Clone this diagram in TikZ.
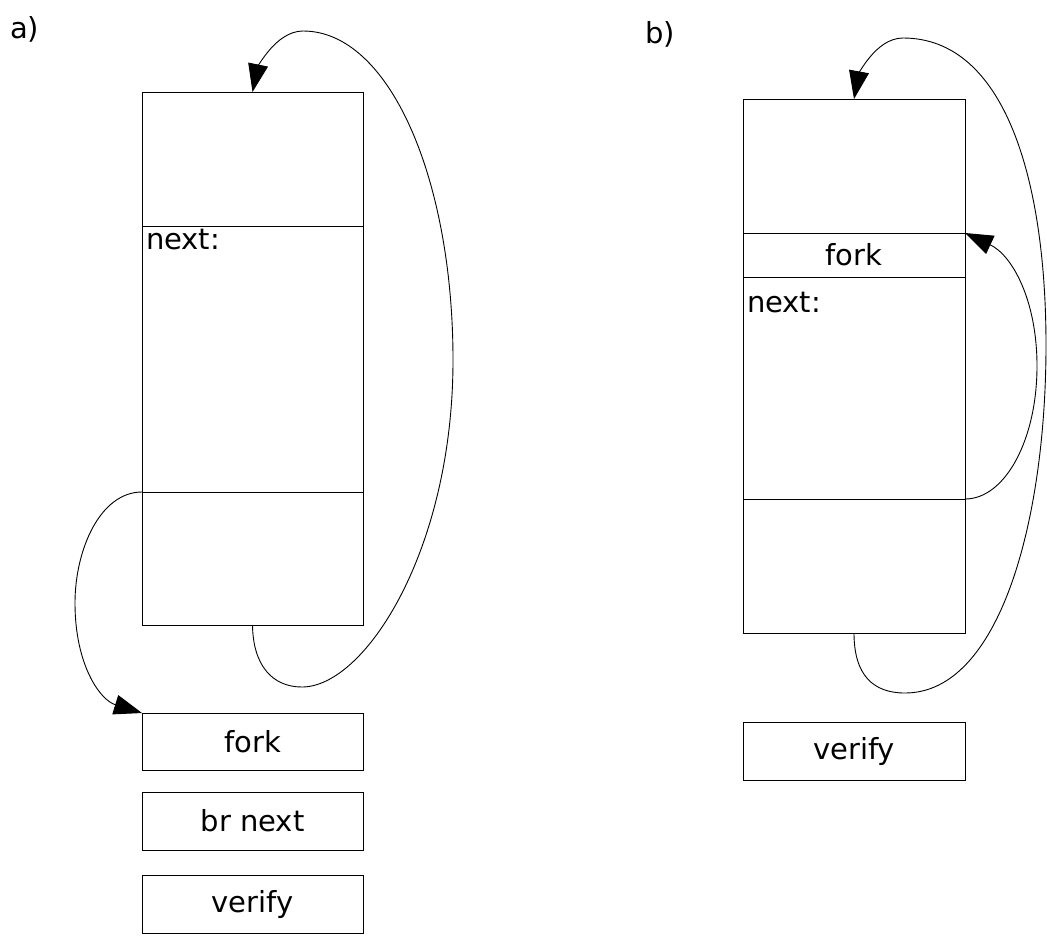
\documentclass[tikz,border=0pt]{standalone}
\usepackage{fontspec}
\setmainfont{DejaVu Sans}
\usetikzlibrary{arrows.meta}
\begin{document}
\begin{tikzpicture}[x=1pt,y=-1pt,
  cell/.style={draw, line width=1pt, inner sep=0pt, outer sep=0pt,
    anchor=north west, font=\fontsize{29}{29}\selectfont},
  txt/.style={inner sep=0pt, outer sep=0pt, anchor=base west,
    font=\fontsize{29}{29}\selectfont},
  link/.style={line width=0.9pt, -{Triangle[length=28pt,width=20pt]}},
  ]
\useasboundingbox (0,0) rectangle (1047,935);

% ---- a) ----
\node[txt] (alabel) at (10,38) {a)};
\node[cell, minimum width=221pt, minimum height=134pt] (aTop) at (142,92) {};
\node[cell, minimum width=221pt, minimum height=266pt] (aMid) at (142,226) {};
\node[cell, minimum width=221pt, minimum height=133pt] (aBot) at (142,492) {};
\node[txt] (aNext) at (146,249) {next:};
\node[cell, minimum width=221pt, minimum height=57pt] (aFork) at (142,713) {fork};
\node[cell, minimum width=221pt, minimum height=58pt] (aBr) at (142,792) {br next};
\node[cell, minimum width=221pt, minimum height=58pt] (aVerify) at (142,875) {verify};

% loop from the end of the block back to its start
\draw[link] (aBot.south)
  .. controls (253,665) and (272,687) .. (302,687)
  .. controls (365,687) and (453,550) .. (453,360)
  .. controls (453,180) and (390,31) .. (303,31)
  .. controls (275,31) and (257,70) .. (aTop.north);
% branch from the split point to the fork block
\draw[link] (aMid.south west)
  .. controls (100,492) and (75,550) .. (75,603)
  .. controls (75,665) and (100,700) .. (aFork.north west);

% ---- b) ----
\node[txt] (blabel) at (645,43) {b)};
\node[cell, minimum width=222pt, minimum height=134pt] (bTop) at (743,99) {};
\node[cell, minimum width=222pt, minimum height=44pt] (bFork) at (743,233) {fork};
\node[cell, minimum width=222pt, minimum height=222pt] (bMid) at (743,277) {};
\node[cell, minimum width=222pt, minimum height=134pt] (bBot) at (743,499) {};
\node[txt] (bNext) at (747,312) {next:};
\node[cell, minimum width=222pt, minimum height=58pt] (bVerify) at (743,722) {verify};

\draw[link] (bBot.south)
  .. controls (854,675) and (873,693) .. (905,693)
  .. controls (1000,693) and (1046,520) .. (1046,345)
  .. controls (1046,180) and (1005,38) .. (903,38)
  .. controls (875,38) and (858,77) .. (bTop.north);
\draw[link] (bMid.south east)
  .. controls (1005,499) and (1037,440) .. (1037,366)
  .. controls (1037,300) and (1012,255) .. (bFork.north east);
\end{tikzpicture}
\end{document}
